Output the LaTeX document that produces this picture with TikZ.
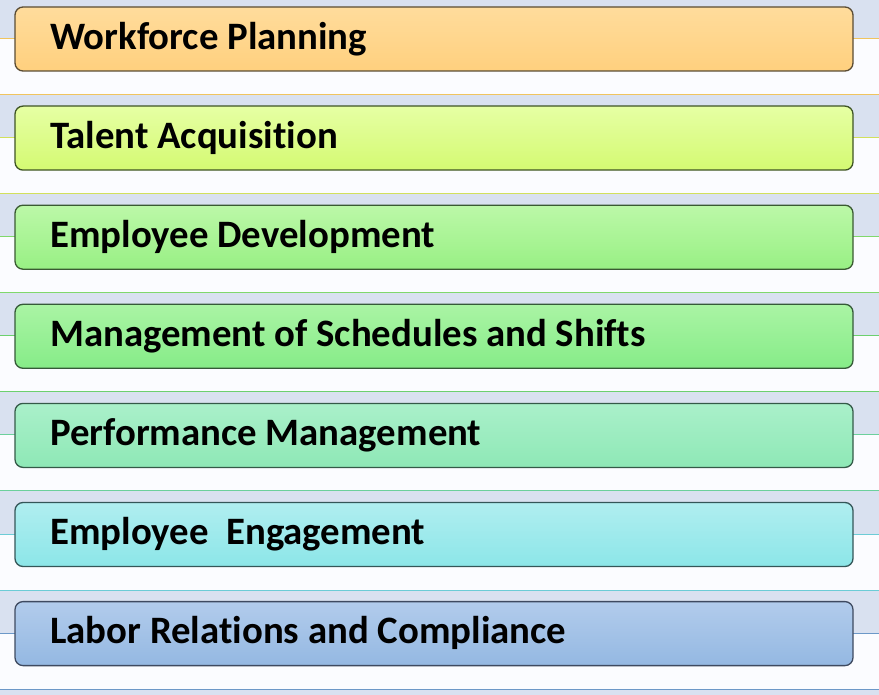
\documentclass[tikz,border=0pt]{standalone}
\usepackage{fontspec}
\setmainfont{Carlito}[Ligatures={NoCommon}]
\definecolor{bandc}{HTML}{D9E1F0}
\definecolor{whitec}{HTML}{FBFCFF}
\definecolor{aT}{HTML}{FFDC9C}\definecolor{aB}{HTML}{FFD07E}\definecolor{aL}{HTML}{F0C45E}\definecolor{aD}{HTML}{5A4C34}
\definecolor{bT}{HTML}{E6FFA4}\definecolor{bB}{HTML}{D4FA72}\definecolor{bL}{HTML}{D2E05C}\definecolor{bD}{HTML}{3E5424}
\definecolor{cT}{HTML}{BCF8A8}\definecolor{cB}{HTML}{98F084}\definecolor{cL}{HTML}{80D86C}\definecolor{cD}{HTML}{3A5A32}
\definecolor{dT}{HTML}{AAF4A4}\definecolor{dB}{HTML}{86EC88}\definecolor{dL}{HTML}{6CD06E}\definecolor{dD}{HTML}{355A38}
\definecolor{eT}{HTML}{AAF0CA}\definecolor{eB}{HTML}{8EE8B6}\definecolor{eL}{HTML}{6CD09C}\definecolor{eD}{HTML}{345A48}
\definecolor{fT}{HTML}{B0EEF0}\definecolor{fB}{HTML}{8CE6E8}\definecolor{fL}{HTML}{6CCCD6}\definecolor{fD}{HTML}{345658}
\definecolor{gT}{HTML}{B2CCEC}\definecolor{gB}{HTML}{94B8E2}\definecolor{gL}{HTML}{6C98C8}\definecolor{gD}{HTML}{3E4A60}
\tikzset{
  itembox/.style={minimum width=838pt, minimum height=64pt, rounded corners=8pt, line width=1.3pt, inner sep=0pt},
  itemtext/.style={anchor=base west, inner sep=0pt, font=\fontsize{38.8}{42}\selectfont\bfseries, text=black},
  bandline/.style={line width=1pt}
}
\begin{document}
\begin{tikzpicture}[x=1pt,y=-1pt]
\useasboundingbox (0,0) rectangle (879,695);
\fill[bandc] (0,0) rectangle (879,695);
\foreach \k/\txt/\c in {0/Workforce Planning/a, 1/Talent Acquisition/b, 2/Employee Development/c, 3/Management of Schedules and Shifts/d, 4/Performance Management/e, 5/Employee\ \ Engagement/f, 6/Labor Relations and Compliance/g}{
  \pgfmathsetmacro\off{99.1*\k}
  \fill[whitec] (0,{\off+38.5}) rectangle (879,{\off+94.5});
  \draw[bandline, draw=\c L] (0,{\off+38.5}) -- (879,{\off+38.5});
  \draw[bandline, draw=\c L] (0,{\off+94.5}) -- (879,{\off+94.5});
  \node[itembox, draw=\c D, top color=\c T, bottom color=\c B] (box\k) at (434,{\off+39}) {};
  \node[itemtext] (txt\k) at (50,{\off+49.2}) {\txt};
}
\end{tikzpicture}
\end{document}
